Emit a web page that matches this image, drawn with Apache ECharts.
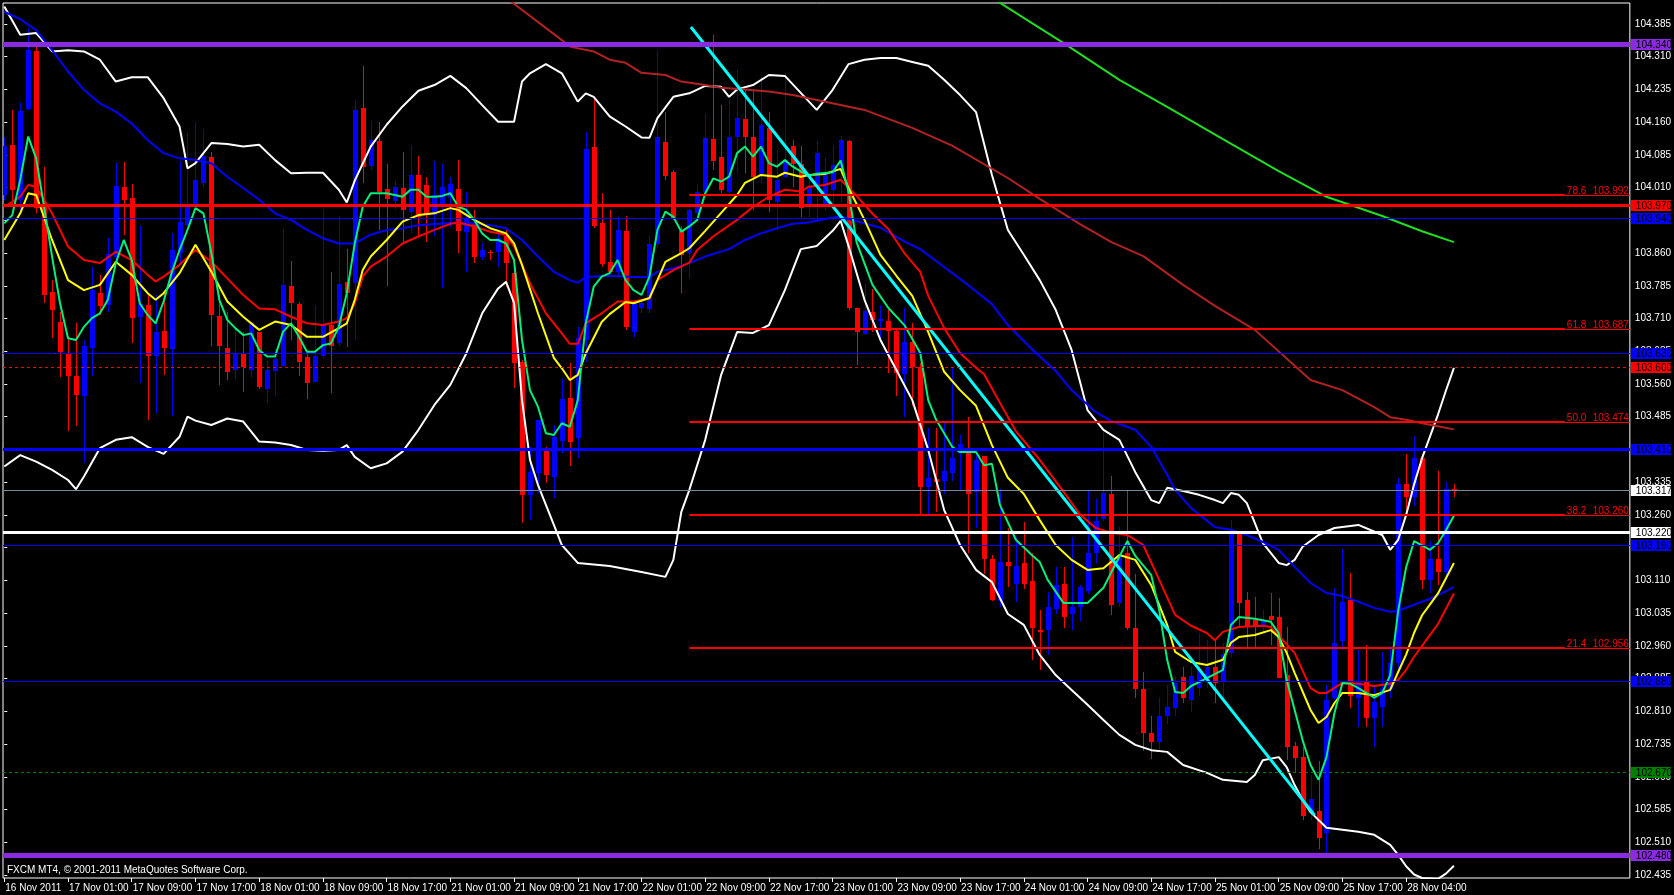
<!DOCTYPE html>
<html><head><meta charset="utf-8">
<script src="https://cdn.jsdelivr.net/npm/echarts@6/dist/echarts.min.js"></script>
<style>html,body{margin:0;padding:0;background:#000;}#c{width:1674px;height:895px;}</style>
</head><body><div id="c"></div>
<script>
// ---------- DATA ----------
const TIME_LABELS = ["16 Nov 2011","17 Nov 01:00","17 Nov 09:00","17 Nov 17:00","18 Nov 01:00","18 Nov 09:00","18 Nov 17:00","21 Nov 01:00","21 Nov 09:00","21 Nov 17:00","22 Nov 01:00","22 Nov 09:00","22 Nov 17:00","23 Nov 01:00","23 Nov 09:00","23 Nov 17:00","24 Nov 01:00","24 Nov 09:00","24 Nov 17:00","25 Nov 01:00","25 Nov 09:00","25 Nov 17:00","28 Nov 04:00"];
const PRICE_TICKS = [102.435,102.510,102.585,102.660,102.735,102.810,102.885,102.960,103.035,103.110,103.185,103.260,103.335,103.410,103.485,103.560,103.635,103.710,103.785,103.860,103.935,104.010,104.085,104.160,104.235,104.310,104.385];
// hourly bars: [open, close, low, high]
const OHLC = [
[103.993,104.105,103.982,104.127],[104.108,104.005,103.970,104.188],[103.982,104.186,103.951,104.203],[104.190,104.325,104.188,104.375],[104.324,103.963,103.951,104.333],
[103.966,103.764,103.745,104.058],[103.771,103.730,103.665,103.798],[103.701,103.634,103.577,103.726],[103.629,103.579,103.453,103.670],[103.578,103.535,103.464,103.699],
[103.533,103.647,103.378,103.661],[103.643,103.775,103.578,103.829],[103.769,103.739,103.718,103.810],[103.740,103.858,103.726,103.894],[103.852,104.014,103.837,104.066],
[104.011,103.982,103.902,104.068],[103.986,103.712,103.653,104.018],[103.713,103.743,103.563,103.921],[103.741,103.623,103.478,103.769],[103.625,103.680,103.493,103.764],
[103.682,103.643,103.581,103.768],[103.640,103.867,103.487,103.905],[103.859,103.932,103.837,104.070],[103.924,103.966,103.921,104.134],[103.973,104.028,103.966,104.157],
[104.020,104.083,104.012,104.144],[104.081,103.718,103.648,104.091],[103.716,103.648,103.558,103.764],[103.643,103.588,103.569,103.726],[103.591,103.630,103.571,103.691],
[103.630,103.600,103.542,103.680],[103.592,103.701,103.577,103.703],[103.680,103.552,103.548,103.680],[103.549,103.592,103.516,103.615],[103.590,103.617,103.533,103.642],
[103.602,103.787,103.600,103.914],[103.785,103.746,103.661,103.841],[103.743,103.611,103.578,103.749],[103.621,103.563,103.525,103.634],[103.565,103.623,103.565,103.739],
[103.623,103.695,103.619,103.961],[103.695,103.646,103.540,103.817],[103.655,103.789,103.646,103.945],[103.794,103.768,103.644,103.869],[103.792,104.188,103.661,104.211],
[104.193,104.058,104.020,104.289],[104.060,104.119,104.050,104.163],[104.117,104.001,103.913,104.161],[104.007,103.983,103.785,104.064],[103.979,104.011,103.960,104.024],
[104.008,103.959,103.886,104.092],[103.955,104.040,103.905,104.105],[104.039,103.943,103.898,104.082],[104.016,103.947,103.886,104.035],[103.947,103.993,103.898,104.070],
[103.966,104.012,103.779,104.063],[103.989,104.018,103.920,104.035],[104.007,103.911,103.859,104.073],[103.909,103.940,103.817,104.001],[103.928,103.852,103.837,103.959],
[103.850,103.867,103.844,103.882],[103.862,103.859,103.844,103.867],[103.863,103.894,103.829,103.905],[103.898,103.837,103.783,103.913],[103.814,103.607,103.550,103.821],
[103.611,103.306,103.242,103.615],[103.306,103.359,103.248,103.416],[103.355,103.478,103.310,103.478],[103.407,103.352,103.332,103.416],[103.348,103.438,103.298,103.466],
[103.430,103.526,103.401,103.571],[103.529,103.428,103.372,103.607],[103.436,103.665,103.390,103.691],[103.661,104.098,103.611,104.138],[104.102,103.923,103.917,104.215],
[103.928,103.834,103.829,103.997],[103.840,103.817,103.814,103.959],[103.817,103.913,103.810,103.943],[103.911,103.690,103.684,103.945],[103.680,103.745,103.668,103.749],
[103.733,103.745,103.722,103.753],[103.731,103.881,103.722,103.899],[103.881,104.125,103.875,104.323],[104.115,104.037,104.028,104.184],[104.046,103.941,103.936,104.050],
[103.911,103.856,103.768,103.921],[103.859,103.959,103.802,103.966],[103.951,104.001,103.936,104.016],[104.001,104.123,103.997,104.179],[104.121,104.072,104.050,104.360],
[104.079,104.005,103.997,104.199],[104.001,104.127,103.997,104.211],[104.127,104.170,104.043,104.280],[104.168,104.127,104.043,104.235],[104.125,104.034,103.959,104.234],
[104.039,104.154,104.020,104.263],[104.147,103.982,103.955,104.184],[103.978,104.028,103.913,104.096],[104.035,104.073,104.031,104.272],[104.105,104.064,104.012,104.119],
[104.064,103.963,103.942,104.106],[103.973,104.014,103.942,104.032],[104.012,104.090,103.938,104.116],[103.967,104.041,103.959,104.077],[104.004,104.061,103.975,104.106],
[104.049,104.118,103.975,104.129],[104.117,103.734,103.730,104.118],[103.734,103.680,103.603,103.734],[103.674,103.728,103.672,103.789],[103.726,103.707,103.680,103.777],
[103.705,103.709,103.664,103.742],[103.705,103.682,103.586,103.730],[103.682,103.586,103.533,103.689],[103.582,103.656,103.484,103.735],[103.656,103.599,103.509,103.699],
[103.599,103.325,103.257,103.607],[103.323,103.345,103.257,103.460],[103.343,103.335,103.267,103.460],[103.337,103.360,103.308,103.472],[103.357,103.390,103.337,103.599],
[103.402,103.423,103.316,103.443],[103.414,103.308,103.173,103.484],[103.312,103.386,103.230,103.398],[103.394,103.158,103.124,103.394],[103.158,103.065,103.063,103.167],
[103.063,103.153,103.050,103.320],[103.153,103.142,103.095,103.230],[103.101,103.144,103.060,103.210],[103.149,103.101,103.091,103.243],[103.108,103.000,102.928,103.173],
[102.997,102.991,102.905,103.042],[102.997,103.050,102.940,103.083],[103.044,103.099,103.034,103.140],[103.101,103.026,103.001,103.140],[103.032,103.050,102.997,103.210],
[103.049,103.095,103.018,103.099],[103.085,103.173,103.079,103.316],[103.173,103.247,103.149,103.296],[103.251,103.311,103.247,103.451],[103.308,103.054,103.030,103.349],
[103.058,103.167,103.050,103.232],[103.173,103.001,102.997,103.316],[103.001,102.860,102.840,103.124],[102.860,102.760,102.720,102.900],[102.760,102.740,102.700,102.800],
[102.740,102.800,102.720,102.840],[102.800,102.820,102.780,102.870],[102.817,102.874,102.800,102.890],[102.889,102.840,102.828,102.912],[102.836,102.891,102.809,102.912],
[102.863,102.905,102.844,102.989],[102.889,102.911,102.863,102.973],[102.912,102.874,102.828,102.973],[102.878,102.941,102.836,102.966],[102.943,103.222,102.935,103.248],
[103.218,103.059,103.004,103.222],[103.064,103.006,102.958,103.084],[103.019,103.004,102.958,103.073],[103.008,103.019,102.989,103.042],[103.028,103.019,102.962,103.080],
[103.025,102.886,102.886,103.069],[102.893,102.729,102.698,103.004],[102.731,102.702,102.672,102.740],[102.706,102.569,102.561,102.729],[102.580,102.610,102.561,102.664],
[102.582,102.520,102.495,102.695],[102.530,102.836,102.483,102.870],[102.840,102.966,102.836,103.092],[102.970,103.061,102.950,103.183],[103.065,102.844,102.817,103.126],
[102.840,102.878,102.775,102.951],[102.878,102.794,102.775,102.962],[102.794,102.832,102.729,102.870],[102.820,102.862,102.775,102.947],[102.860,102.920,102.840,102.960],
[102.920,103.330,102.900,103.345],[103.330,103.300,103.270,103.400],[103.300,103.390,103.280,103.440],[103.390,103.110,103.090,103.400],[103.110,103.160,103.080,103.200],
[103.160,103.130,103.100,103.360],[103.130,103.320,103.110,103.335],[103.320,103.317,103.300,103.330]
];
// indicator lines: [bar, price]
const BB_UPPER = [[0,104.425],[2,104.360],[4,104.364],[6,104.322],[8,104.325],[10,104.322],[12,104.303],[14,104.253],[16,104.263],[18,104.263],[20,104.215],[22,104.150],[23,104.054],[24,104.066],[26,104.112],[28,104.110],[30,104.104],[32,104.108],[34,104.073],[36,104.043],[38,104.044],[40,104.044],[42,104.005],[43,103.976],[44,104.026],[46,104.104],[48,104.154],[50,104.196],[52,104.232],[54,104.245],[56,104.266],[58,104.238],[60,104.199],[62,104.161],[64,104.161],[65,104.253],[66,104.272],[68,104.293],[70,104.272],[72,104.207],[73,104.226],[74,104.218],[76,104.173],[78,104.150],[80,104.125],[81,104.124],[82,104.169],[84,104.218],[86,104.226],[88,104.243],[90,104.241],[91,104.218],[92,104.235],[94,104.245],[96,104.268],[98,104.266],[100,104.227],[102,104.188],[104,104.234],[106,104.293],[108,104.303],[110,104.307],[112,104.307],[114,104.298],[116,104.289],[118,104.257],[120,104.222],[122,104.183],[124,104.039],[126,103.913],[128,103.856],[130,103.798],[132,103.730],[134,103.638],[136,103.500],[138,103.455],[140,103.432],[142,103.358],[144,103.294],[145,103.287],[146,103.322],[148,103.315],[150,103.306],[152,103.294],[153,103.287],[154,103.310],[155,103.306],[156,103.287],[157,103.242],[158,103.196],[160,103.150],[161,103.145],[162,103.157],[163,103.187],[165,103.214],[167,103.230],[170,103.237],[173,103.214],[174,103.180],[175,103.203],[176,103.260],[177,103.330],[178,103.390],[179,103.440],[180,103.490],[181,103.545],[182,103.597]];
const BB_LOWER = [[0,103.371],[2,103.397],[4,103.382],[6,103.363],[8,103.340],[9,103.319],[10,103.348],[12,103.413],[14,103.432],[16,103.438],[18,103.416],[20,103.400],[22,103.439],[23,103.485],[24,103.476],[26,103.466],[28,103.481],[30,103.474],[32,103.428],[34,103.426],[36,103.420],[38,103.409],[40,103.407],[42,103.409],[43,103.420],[44,103.393],[46,103.367],[48,103.378],[50,103.405],[52,103.455],[54,103.512],[56,103.558],[58,103.630],[60,103.722],[62,103.779],[63,103.794],[64,103.746],[65,103.523],[66,103.386],[67,103.329],[68,103.283],[69,103.237],[70,103.191],[72,103.150],[76,103.143],[80,103.129],[83,103.118],[84,103.157],[85,103.267],[86,103.317],[88,103.432],[90,103.581],[92,103.679],[94,103.677],[96,103.695],[98,103.775],[100,103.869],[102,103.876],[104,103.911],[105,103.934],[106,103.876],[108,103.753],[110,103.661],[112,103.592],[114,103.523],[116,103.409],[118,103.271],[120,103.191],[122,103.134],[124,103.106],[126,103.033],[128,103.008],[130,102.939],[132,102.893],[134,102.859],[136,102.825],[138,102.790],[140,102.756],[142,102.733],[144,102.721],[146,102.717],[148,102.687],[151,102.669],[153,102.653],[156,102.648],[157,102.664],[158,102.698],[160,102.705],[161,102.682],[162,102.641],[163,102.607],[164,102.579],[166,102.543],[170,102.534],[172,102.527],[174,102.504],[175,102.481],[176,102.455],[177,102.436],[178,102.428],[180,102.426],[181,102.438],[182,102.456]];
const MA_BLUE = [[0,104.413],[2,104.396],[4,104.371],[6,104.325],[8,104.276],[10,104.234],[12,104.203],[14,104.184],[16,104.157],[18,104.119],[20,104.089],[22,104.077],[24,104.073],[26,104.066],[28,104.035],[30,104.009],[32,103.982],[34,103.951],[36,103.936],[38,103.913],[40,103.894],[42,103.882],[44,103.882],[46,103.902],[48,103.913],[50,103.917],[52,103.924],[55,103.928],[57,103.930],[59,103.928],[61,103.924],[63,103.917],[65,103.890],[67,103.852],[69,103.817],[71,103.798],[72,103.792],[73,103.805],[76,103.808],[79,103.805],[81,103.805],[82,103.817],[84,103.825],[86,103.837],[88,103.852],[91,103.869],[93,103.890],[95,103.905],[97,103.917],[99,103.927],[101,103.930],[103,103.938],[105,103.944],[106,103.938],[110,103.918],[113,103.887],[115,103.869],[118,103.828],[121,103.787],[124,103.743],[126,103.695],[129,103.640],[132,103.590],[134,103.546],[137,103.496],[139,103.475],[142,103.455],[144,103.416],[146,103.352],[147,103.317],[149,103.276],[152,103.232],[154,103.226],[156,103.214],[158,103.198],[160,103.180],[162,103.141],[164,103.104],[166,103.081],[168,103.074],[170,103.061],[172,103.047],[174,103.038],[175,103.040],[177,103.054],[179,103.068],[181,103.085],[182,103.095]];
const MA_RED = [[0,103.966],[2,103.989],[3,104.016],[4,104.012],[6,103.951],[8,103.875],[10,103.844],[12,103.837],[14,103.863],[16,103.844],[18,103.810],[19,103.795],[20,103.806],[22,103.833],[24,103.867],[26,103.840],[28,103.802],[30,103.764],[32,103.733],[34,103.731],[36,103.714],[38,103.699],[40,103.695],[42,103.703],[43,103.711],[44,103.745],[45,103.806],[46,103.829],[48,103.852],[50,103.882],[52,103.898],[54,103.913],[56,103.927],[57,103.930],[59,103.921],[61,103.909],[63,103.902],[64,103.875],[66,103.791],[68,103.722],[70,103.676],[71,103.652],[72,103.652],[73,103.699],[75,103.722],[77,103.749],[79,103.749],[81,103.756],[82,103.798],[84,103.821],[86,103.838],[87,103.867],[89,103.898],[92,103.936],[94,103.966],[96,103.989],[98,104.005],[100,104.001],[101,104.012],[103,104.016],[105,104.028],[107,103.991],[109,103.950],[111,103.915],[113,103.860],[115,103.817],[116,103.762],[118,103.688],[120,103.631],[122,103.597],[123,103.583],[125,103.517],[127,103.452],[130,103.386],[133,103.313],[135,103.262],[137,103.230],[139,103.219],[141,103.214],[143,103.191],[145,103.111],[147,103.031],[149,103.006],[151,102.989],[152,102.973],[153,102.992],[155,103.003],[158,103.006],[159,103.003],[160,102.983],[162,102.944],[164,102.863],[165,102.852],[166,102.852],[168,102.875],[170,102.873],[172,102.868],[174,102.873],[175,102.882],[176,102.905],[177,102.935],[178,102.960],[179,102.985],[180,103.010],[181,103.045],[182,103.080]];
const MA_YELLOW = [[0,103.890],[2,103.951],[3,103.997],[4,103.993],[6,103.890],[8,103.798],[10,103.775],[12,103.787],[14,103.840],[16,103.810],[18,103.768],[19,103.753],[20,103.768],[22,103.814],[24,103.879],[26,103.817],[28,103.749],[30,103.714],[32,103.684],[34,103.703],[36,103.695],[38,103.668],[40,103.668],[42,103.688],[43,103.699],[44,103.753],[45,103.821],[46,103.852],[48,103.890],[50,103.932],[52,103.947],[54,103.951],[56,103.963],[57,103.959],[59,103.936],[61,103.917],[63,103.905],[64,103.882],[65,103.833],[67,103.722],[69,103.620],[70,103.596],[71,103.569],[72,103.581],[73,103.630],[75,103.702],[76,103.720],[78,103.748],[79,103.745],[81,103.757],[82,103.798],[83,103.840],[85,103.860],[86,103.871],[88,103.911],[90,103.952],[92,103.993],[93,104.021],[95,104.039],[97,104.035],[98,104.044],[100,104.035],[101,104.039],[103,104.041],[105,104.053],[106,104.009],[108,103.936],[110,103.856],[112,103.808],[114,103.762],[116,103.679],[118,103.588],[120,103.546],[122,103.510],[124,103.420],[126,103.345],[128,103.308],[130,103.248],[132,103.191],[134,103.157],[136,103.134],[138,103.138],[140,103.168],[142,103.157],[144,103.099],[146,103.008],[147,102.946],[149,102.923],[151,102.916],[153,102.928],[154,102.967],[155,102.980],[157,102.985],[159,102.996],[160,102.980],[161,102.944],[162,102.898],[164,102.813],[165,102.783],[166,102.797],[167,102.829],[168,102.852],[170,102.852],[172,102.847],[174,102.859],[175,102.900],[176,102.940],[177,102.990],[178,103.030],[179,103.055],[180,103.080],[181,103.115],[182,103.150]];
const MA_GREEN = [[0,103.928],[1,103.947],[2,104.028],[3,104.127],[4,104.077],[5,103.966],[6,103.852],[7,103.745],[8,103.665],[9,103.661],[10,103.691],[11,103.711],[12,103.722],[13,103.753],[14,103.837],[15,103.890],[16,103.844],[17,103.745],[18,103.718],[19,103.699],[20,103.749],[21,103.814],[22,103.867],[23,103.913],[24,103.963],[25,103.951],[26,103.860],[27,103.753],[28,103.707],[29,103.688],[30,103.672],[31,103.676],[32,103.638],[33,103.623],[34,103.623],[35,103.680],[36,103.699],[37,103.668],[38,103.634],[39,103.634],[40,103.649],[41,103.653],[42,103.691],[43,103.768],[44,103.882],[45,103.966],[46,103.997],[47,103.997],[48,103.997],[49,103.993],[50,103.989],[51,104.005],[52,104.005],[53,103.989],[54,103.989],[55,103.991],[56,103.997],[57,103.966],[58,103.959],[59,103.936],[60,103.905],[61,103.890],[62,103.890],[63,103.882],[64,103.844],[65,103.661],[66,103.546],[67,103.508],[68,103.447],[69,103.443],[70,103.470],[71,103.462],[72,103.523],[73,103.699],[74,103.783],[75,103.806],[76,103.814],[77,103.844],[78,103.798],[79,103.775],[80,103.764],[81,103.806],[82,103.913],[83,103.955],[84,103.943],[85,103.909],[86,103.921],[87,103.936],[88,103.997],[89,104.031],[90,104.024],[91,104.035],[92,104.089],[93,104.104],[94,104.081],[95,104.104],[96,104.066],[97,104.058],[98,104.073],[99,104.058],[100,104.047],[101,104.037],[102,104.042],[104,104.045],[105,104.072],[106,104.000],[107,103.885],[109,103.787],[111,103.734],[113,103.695],[115,103.631],[116,103.523],[117,103.478],[119,103.416],[120,103.404],[122,103.404],[123,103.374],[124,103.377],[125,103.283],[127,103.203],[129,103.168],[130,103.152],[131,103.111],[133,103.058],[136,103.058],[138,103.093],[139,103.129],[141,103.200],[142,103.166],[144,103.122],[145,103.042],[146,102.928],[147,102.854],[148,102.852],[149,102.868],[151,102.886],[153,102.905],[154,103.008],[155,103.026],[157,103.022],[159,103.015],[160,102.989],[161,102.882],[163,102.744],[164,102.687],[165,102.653],[166,102.705],[167,102.806],[168,102.875],[169,102.873],[170,102.863],[172,102.841],[173,102.852],[174,102.893],[175,103.040],[176,103.140],[177,103.200],[178,103.190],[179,103.180],[180,103.195],[181,103.225],[182,103.258]];
const MA_DARKRED = [[63,104.445],[70,104.348],[71,104.333],[74,104.322],[76,104.303],[78,104.296],[80,104.273],[83,104.268],[85,104.253],[88,104.245],[90,104.239],[93,104.235],[96,104.230],[99,104.222],[108,104.188],[114,104.147],[119,104.106],[126,104.032],[130,103.984],[135,103.927],[139,103.885],[143,103.853],[148,103.787],[152,103.739],[157,103.684],[164,103.569],[168,103.546],[172,103.507],[174,103.484],[176,103.478],[178,103.470],[180,103.463],[182,103.456]];
const MA_LIME = [[124,104.445],[133,104.341],[140,104.257],[146,104.195],[153,104.121],[160,104.048],[166,103.989],[173,103.945],[178,103.910],[182,103.885]];
const TRENDLINE = [[86.2,104.378],[164.5,102.572]];
const FIB_START_BAR = 86;
const FIB_LEVELS = [[78.6,103.992],[61.8,103.687],[50.0,103.474],[38.2,103.260],[21.4,102.956]];
const LEVEL_PRICES = [104.340,103.970,103.940,103.630,103.600,103.410,103.317,103.220,103.190,102.880,102.670,102.480];
const COPYRIGHT = "FXCM MT4, \u00A9 2001-2011 MetaQuotes Software Corp.";

// ---------- STYLE / LAYOUT ----------
const FONT_FAMILY = '"Liberation Sans", Arial, sans-serif';
const FONT = '10px ' + FONT_FAMILY;
const LEVEL_STYLES = [
 {c:'#8a2be2',w:5,box:'#8a2be2'},{c:'#ff0000',w:3,box:'#ff0000'},{c:'#0000ff',w:1,box:'#0000ff'},
 {c:'#0000ff',w:1,box:'#0000ff'},{c:'#ff0000',w:1,dash:true,box:'#ff0000'},{c:'#0000ff',w:3,box:'#0000ff'},
 {c:'#778899',w:1,box:'#ffffff'},{c:'#ffffff',w:3,box:'#ffffff'},{c:'#0000ff',w:1,box:'#0000ff'},
 {c:'#0000ff',w:1,box:'#0000ff'},{c:'#008000',w:1,dash:true,box:'#008000'},{c:'#8a2be2',w:5,box:'#8a2be2'}];
const X_MIN = -0.1625, X_MAX = 204.0875, Y_MIN = 102.428, Y_MAX = 104.433;
const LABEL_BARS = TIME_LABELS.map((_, k) => k * 8);

const chart = echarts.init(document.getElementById('c'), null, {renderer:'canvas'});

function lineSeries(name, data, color, width, z){
  return {name, type:'line', data, showSymbol:false, symbol:'none', clip:true, z: z||3,
    lineStyle:{color, width}, itemStyle:{color}, emphasis:{disabled:true}, silent:true};
}

const option = {
  animation:false,
  backgroundColor:'#000',
  grid:{left:3, top:3, right:37, bottom:17, show:true, borderColor:'#ffffff', borderWidth:1, backgroundColor:'#000'},
  xAxis:{type:'value', min:X_MIN, max:X_MAX, splitLine:{show:false}, axisLine:{show:false},
    axisTick:{show:true, length:4, lineStyle:{color:'#ffffff'}, customValues: LABEL_BARS},
    axisLabel:{customValues: LABEL_BARS, color:'#ffffff', fontSize:10, fontFamily:FONT_FAMILY, margin:5, align:'left', padding:[0,0,0,1],
      hideOverlap:false, showMinLabel:true, showMaxLabel:true,
      formatter:(v)=> TIME_LABELS[Math.round(v/8)] || ''}},
  yAxis:{type:'value', position:'right', min:Y_MIN, max:Y_MAX, splitLine:{show:false}, axisLine:{show:false},
    axisTick:{show:true, length:3, lineStyle:{color:'#ffffff'}, customValues: PRICE_TICKS},
    axisLabel:{customValues: PRICE_TICKS, color:'#ffffff', fontSize:10, fontFamily:FONT_FAMILY, margin:5, hideOverlap:false,
      formatter:(v)=> v.toFixed(3)}},
  graphic:[{type:'text', left:7, top:865, z:100, style:{text:COPYRIGHT, fill:'#ffffff', font:FONT}}],
  series:[
    {type:'custom', name:'bars', z:2, silent:true, clip:true,
     data: OHLC.map((r,i)=>[i, r[0], r[1], r[2], r[3]]),
     encode:{x:0, y:[1,2,3,4]},
     renderItem:(params, api)=>{
       const i=api.value(0), o=api.value(1), c=api.value(2), lo=api.value(3), hi=api.value(4);
       const po=api.coord([i,o]), pc=api.coord([i,c]), pl=api.coord([i,lo]), ph=api.coord([i,hi]);
       const x=Math.round(po[0]);
       const col = c>=o ? '#0000ff' : '#ff0000';
       const top=Math.round(Math.min(po[1],pc[1])), bot=Math.round(Math.max(po[1],pc[1]));
       const wt=Math.round(ph[1]), wb=Math.round(pl[1]);
       return {type:'group', children:[
         {type:'rect', shape:{x:x, y:wt, width:1, height:Math.max(1,wb-wt)}, style:{fill:col}},
         {type:'rect', shape:{x:x-2, y:top, width:5, height:Math.max(1,bot-top)}, style:{fill:col}}
       ]};
     }},
    lineSeries('bbUpper', BB_UPPER, '#ffffff', 2),
    lineSeries('bbLower', BB_LOWER, '#ffffff', 2),
    lineSeries('maDarkRed', MA_DARKRED, '#b22222', 2),
    lineSeries('maLime', MA_LIME, '#22dd22', 2),
    lineSeries('maBlue', MA_BLUE, '#0000ff', 2),
    lineSeries('maRed', MA_RED, '#ff0000', 2),
    lineSeries('maYellow', MA_YELLOW, '#ffff00', 2),
    lineSeries('maGreen', MA_GREEN, '#00f07a', 2),
    {type:'custom', name:'levels', z:5, silent:true,
     data: LEVEL_PRICES.map(p=>[0,p]), encode:{x:0,y:1},
     renderItem:(params, api)=>{
       const p=api.value(1); const cs=params.coordSys; const st=LEVEL_STYLES[params.dataIndex];
       const y=Math.round(api.coord([0,p])[1]);
       const right=cs.x+cs.width;
       const kids=[];
       if(st.dash){
         kids.push({type:'line', shape:{x1:cs.x, y1:y+0.5, x2:right, y2:y+0.5}, style:{stroke:st.c, lineWidth:1, lineDash:[3,3]}});
       } else {
         kids.push({type:'rect', shape:{x:cs.x, y:y-Math.floor(st.w/2), width:cs.width, height:st.w}, style:{fill:st.c}});
       }
       kids.push({type:'rect', shape:{x:right+1, y:y-5, width:40, height:11}, style:{fill:st.box}});
       kids.push({type:'text', style:{text:p.toFixed(3), x:right+6, y:y+1, fill:'#000000', font:FONT, verticalAlign:'middle', align:'left'}});
       return {type:'group', children:kids};
     }},
    {type:'custom', name:'fib', z:5, silent:true,
     data: FIB_LEVELS, encode:{x:0,y:1},
     renderItem:(params, api)=>{
       const ratio=api.value(0), price=api.value(1); const cs=params.coordSys;
       const s=api.coord([FIB_START_BAR, price]); const y=Math.round(s[1]);
       const right=cs.x+cs.width; const split=right-65;
       return {type:'group', children:[
         {type:'rect', shape:{x:s[0], y:y-1, width:split-s[0], height:2}, style:{fill:'#ff0000'}},
         {type:'rect', shape:{x:split, y:y, width:right-split, height:1}, style:{fill:'#ff0000'}},
         {type:'text', style:{text:ratio.toFixed(1), x:split+2, y:y+1, fill:'#ff0000', font:FONT, verticalAlign:'bottom', align:'left'}},
         {type:'text', style:{text:price.toFixed(3), x:right-1, y:y+1, fill:'#ff0000', font:FONT, verticalAlign:'bottom', align:'right'}}
       ]};
     }},
    lineSeries('trend', TRENDLINE, '#00ffff', 3, 4)
  ]
};
chart.setOption(option);
</script>
</body></html>
